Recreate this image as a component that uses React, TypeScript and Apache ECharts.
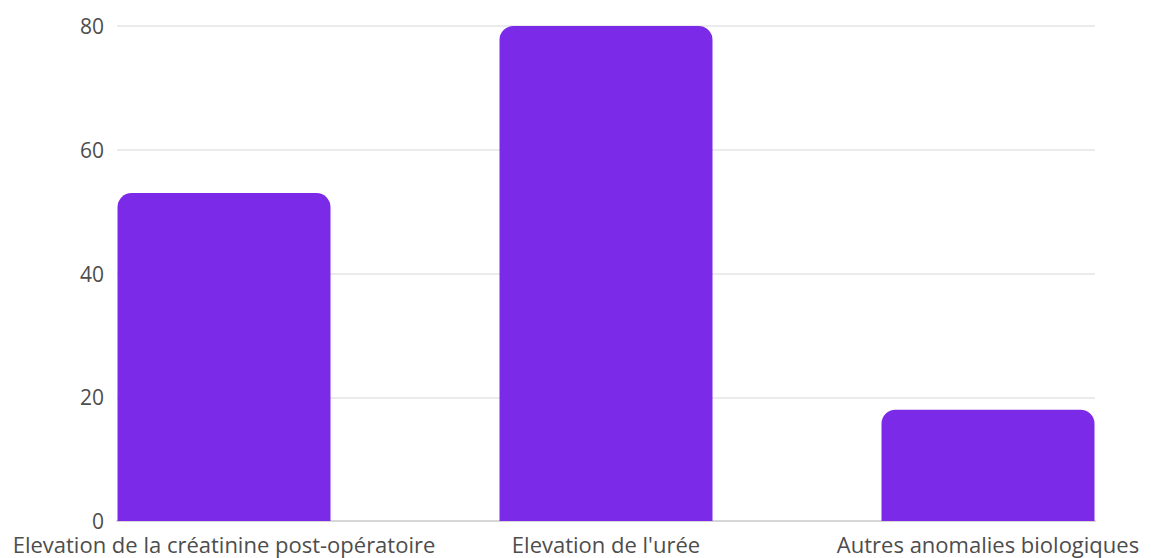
import React, { useEffect, useRef } from "react";
import * as echarts from "echarts";

// Categories and values
const categories = [
  "Elevation de la créatinine post-opératoire",
  "Elevation de l'urée",
  "Autres anomalies biologiques",
];
const values = [53, 80, 18];
const yTicks = { min: 0, max: 80, interval: 20 };

const BAR_COLOR = "#7b2be8";
const TEXT_COLOR = "#4d4d4d";
const FONT = "'Open Sans', 'Noto Sans', sans-serif";

export default function App() {
  const ref = useRef<HTMLDivElement>(null);

  useEffect(() => {
    if (!ref.current) return;
    const chart = echarts.init(ref.current, undefined, { renderer: "svg" });
    chart.setOption({
      animation: false,
      backgroundColor: "#ffffff",
      grid: [
        // grid with value axis and gridlines
        { left: 117, right: 56, top: 26, bottom: 37, containLabel: false, outerBoundsMode: "none" },
        // wider grid that carries the bars and category labels
        { left: 33, width: 1146, top: 26, bottom: 37, containLabel: false, outerBoundsMode: "none" },
      ],
      xAxis: [
        {
          type: "category",
          gridIndex: 0,
          data: categories,
          axisLine: { show: true, lineStyle: { color: "#d6d6d6", width: 2 } },
          axisTick: { show: false },
          axisLabel: { show: false },
        },
        {
          type: "category",
          gridIndex: 1,
          data: categories,
          axisLine: { show: false },
          axisTick: { show: false },
          axisLabel: {
            color: TEXT_COLOR,
            fontFamily: FONT,
            fontSize: 22,
            lineHeight: 22,
            margin: 12,
            interval: 0,
          },
        },
      ],
      yAxis: [
        {
          type: "value",
          gridIndex: 0,
          min: yTicks.min,
          max: yTicks.max,
          interval: yTicks.interval,
          axisLine: { show: false },
          axisTick: { show: false },
          axisLabel: {
            color: TEXT_COLOR,
            fontFamily: FONT,
            fontSize: 21,
            lineHeight: 17,
            margin: 13,
          },
          splitLine: { lineStyle: { color: "#ebebeb", width: 2 } },
        },
        {
          type: "value",
          gridIndex: 1,
          min: yTicks.min,
          max: yTicks.max,
          interval: yTicks.interval,
          show: false,
          splitLine: { show: false },
        },
      ],
      series: [
        {
          type: "bar",
          xAxisIndex: 1,
          yAxisIndex: 1,
          data: values,
          barWidth: 213,
          itemStyle: { color: BAR_COLOR, borderRadius: [14, 14, 0, 0] },
        },
      ],
    });
    return () => chart.dispose();
  }, []);

  return (
    <div
      ref={ref}
      style={{ position: "absolute", left: 0, top: 0, width: 1151, height: 558 }}
    />
  );
}
